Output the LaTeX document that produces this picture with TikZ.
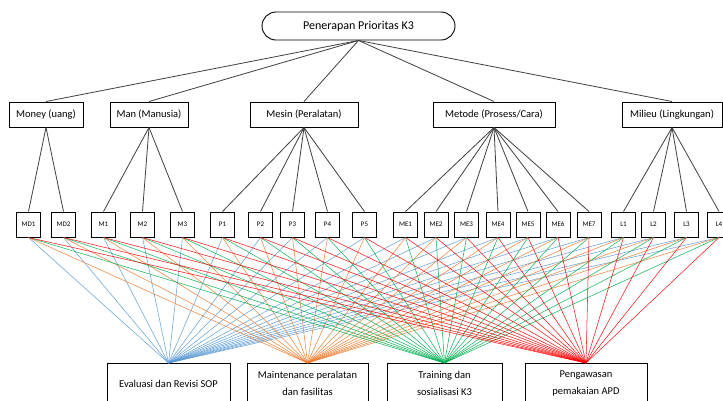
\documentclass[tikz,border=0pt]{standalone}
\usepackage{fontspec}
\setmainfont{Carlito}
\definecolor{eblue}{RGB}{91,155,213}
\definecolor{eorange}{RGB}{237,125,49}
\definecolor{egreen}{RGB}{0,176,80}
\definecolor{ered}{RGB}{255,0,0}
\tikzset{
  topbox/.style={draw, line width=0.9pt, rounded corners=14pt, minimum width=193pt, minimum height=28pt, inner sep=0pt, font=\fontsize{12}{14}\selectfont},
  catbox/.style={draw, line width=1pt, minimum height=25pt, inner sep=0pt, font=\fontsize{10.5}{12}\selectfont},
  subbox/.style={draw, line width=1pt, minimum width=24pt, minimum height=25pt, inner sep=0pt, font=\fontsize{7}{8}\selectfont},
  altbox/.style={draw, line width=1pt, anchor=north, minimum height=40pt, inner sep=0pt, align=center, font=\fontsize{10.5}{17}\selectfont},
  treeedge/.style={draw=black!75, line width=0.8pt},
  fan/.style={line width=0.55pt, opacity=0.9}
}
\begin{document}
\begin{tikzpicture}[x=1pt,y=-1pt]
\path[use as bounding box, clip] (0,0) rectangle (723,400);
\fill[white] (0,0) rectangle (723,400);
% top
\node[topbox] (top) at (358.5,26) {Penerapan Prioritas K3};
% categories
\node[catbox, minimum width=74pt] (money) at (46,114.5) {Money (uang)};
\node[catbox, minimum width=78pt] (man) at (149,114.5) {Man (Manusia)};
\node[catbox, minimum width=108pt] (mesin) at (304,114.5) {Mesin (Peralatan)};
\node[catbox, minimum width=122pt] (metode) at (494,114.5) {Metode (Prosess/Cara)};
\node[catbox, minimum width=100pt] (milieu) at (672,114.5) {Milieu (Lingkungan)};
\foreach \c in {money,man,mesin,metode,milieu} \draw[treeedge] (top.south) -- (\c.north);
% sub nodes
\foreach \x/\n/\t in {28.5/md1/MD1, 63.5/md2/MD2, 103.5/m1/M1, 142.5/m2/M2, 182.5/m3/M3,
  222.5/p1/P1, 260.5/p2/P2, 292.5/p3/P3, 327.5/p4/P4, 364.5/p5/P5,
  405.5/me1/ME1, 436/me2/ME2, 466.5/me3/ME3, 498/me4/ME4, 528/me5/ME5, 558/me6/ME6, 589/me7/ME7,
  623.5/l1/L1, 653.5/l2/L2, 686.5/l3/L3, 719/l4/L4}
  \node[subbox] (\n) at (\x,224.5) {\t};
\foreach \n in {md1,md2} \draw[treeedge] (money.south) -- (\n.north);
\foreach \n in {m1,m2,m3} \draw[treeedge] (man.south) -- (\n.north);
\foreach \n in {p1,p2,p3,p4,p5} \draw[treeedge] (mesin.south) -- (\n.north);
\foreach \n in {me1,me2,me3,me4,me5,me6,me7} \draw[treeedge] (metode.south) -- (\n.north);
\foreach \n in {l1,l2,l3,l4} \draw[treeedge] (milieu.south) -- (\n.north);
% alternatives
\node[altbox, minimum width=123pt] (b1) at (168.5,363) {Evaluasi dan Revisi SOP};
\node[altbox, minimum width=121pt] (b2) at (307.5,363) {Maintenance peralatan\\dan fasilitas};
\node[altbox, minimum width=115pt] (b3) at (444.5,363) {Training dan\\sosialisasi K3};
\node[altbox, minimum width=122pt] (b4) at (586,363) {Pengawasan\\pemakaian APD};
% fans
\foreach \b/\col in {b1/eblue, b2/eorange, b3/egreen, b4/ered}
  \foreach \n in {md1,md2,m1,m2,m3,p1,p2,p3,p4,p5,me1,me2,me3,me4,me5,me6,me7,l1,l2,l3,l4}
    \draw[fan, draw=\col] (\n.south) -- (\b.north);
\end{tikzpicture}
\end{document}
